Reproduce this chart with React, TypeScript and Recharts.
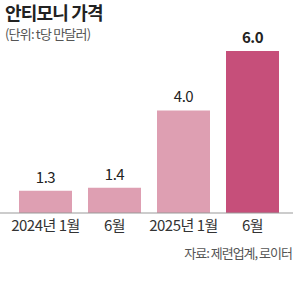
import React from 'react';
import { BarChart, Bar, XAxis, YAxis, Cell, LabelList } from 'recharts';

const categories = ['2024년 1월', '6월', '2025년 1월', '6월'];
const prices = [1.3, 1.4, 4.0, 6.0];
const barColors = ['#de9fb2', '#de9fb2', '#de9fb2', '#c64f7a'];

const data = categories.map((name, i) => ({ key: `${name}-${i}`, name, price: prices[i] }));

const FONT = '"Noto Sans CJK KR", "Noto Sans", sans-serif';

const ValueLabel = (props: any) => {
  const { x, y, width, value, index } = props;
  const last = index === prices.length - 1;
  return (
    <text
      x={x + width / 2}
      y={y - 8}
      textAnchor="middle"
      fontSize={15}
      fontWeight={last ? 700 : 400}
      fill="#222"
      fontFamily={FONT}
      letterSpacing={-0.5}
    >
      {value.toFixed(1)}
    </text>
  );
};

const App: React.FC = () => {
  return (
    <div style={{ position: 'absolute', left: 0, top: 0, width: 300, height: 293, background: '#fff', fontFamily: FONT }}>
      <div style={{ position: 'absolute', left: 0, top: 0 }}>
        <BarChart width={300} height={293} data={data} margin={{ top: 51, right: 7, left: 0, bottom: 50 }} barSize={53}>
          <XAxis
            dataKey="key"
            tickFormatter={(_v: string, i: number) => categories[i]}
            axisLine={{ stroke: '#999', strokeWidth: 1 }}
            tickLine={false}
            padding={{ left: 11, right: 6 }}
            interval={0}
            tick={{ fill: '#333', fontSize: 15, fontFamily: FONT, letterSpacing: -0.5 }}
            tickMargin={1}
          />
          <YAxis hide domain={[0.55, 6]} allowDataOverflow />
          <Bar dataKey="price" isAnimationActive={false}>
            {data.map((d, i) => (
              <Cell key={d.key} fill={barColors[i]} />
            ))}
            <LabelList dataKey="price" content={ValueLabel} />
          </Bar>
        </BarChart>
      </div>
      {/* 제목/단위/출처는 차트 위에 얹는다 */}
      <div style={{ position: 'absolute', left: 5, top: 1, fontSize: 18, lineHeight: '22px', fontWeight: 700, color: '#222', letterSpacing: -0.8, whiteSpace: 'nowrap' }}>
        안티모니 가격
      </div>
      <div style={{ position: 'absolute', left: 5, top: 26, fontSize: 13, lineHeight: '16px', color: '#555', letterSpacing: -0.8, whiteSpace: 'nowrap' }}>
        (단위: t당 만달러)
      </div>
      <div style={{ position: 'absolute', right: 8, top: 245, fontSize: 13, lineHeight: '16px', color: '#555', letterSpacing: -1, whiteSpace: 'nowrap' }}>
        자료: 제련업계, 로이터
      </div>
    </div>
  );
};

export default App;
